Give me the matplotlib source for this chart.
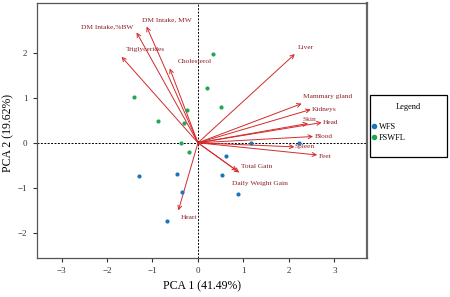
import matplotlib
matplotlib.use("Agg")
import matplotlib.pyplot as plt
from matplotlib.lines import Line2D
from matplotlib.patches import Rectangle

plt.rcParams['font.family'] = ['Liberation Serif', 'DejaVu Serif']

# PCA scores
wfs_x = [1.16, 2.23, -1.30, -0.46, -0.35, -0.67, 0.62, 0.52, 0.89]
wfs_y = [0.00, 0.00, -0.73, -0.70, -1.10, -1.74, -0.30, -0.71, -1.13]
fswfl_x = [-1.40, -0.88, -0.25, -0.30, -0.37, -0.19, 0.33, 0.20, 0.51]
fswfl_y = [1.01, 0.48, 0.72, 0.45, 0.00, -0.21, 1.97, 1.21, 0.79]

# loadings (arrow tips)
variables = ['DM Intake,%BW', 'DM Intake, MW', 'Triglycerides', 'Cholesterol',
             'Liver', 'Mammary gland', 'Kidneys', 'Skin', 'Head', 'Blood',
             'Spleen', 'Feet', 'Total Gain', 'Daily Weight Gain', 'Heart']
load_x = [-1.35, -1.13, -1.68, -0.62, 2.13, 2.28, 2.48, 2.42, 2.72, 2.53,
          2.12, 2.62, 0.91, 0.86, -0.43]
load_y = [2.45, 2.58, 1.91, 1.65, 1.97, 0.87, 0.74, 0.43, 0.45, 0.14,
          -0.09, -0.27, -0.66, -0.62, -1.50]

# label offsets in points relative to arrow tip
label_off = {
    'DM Intake,%BW': (-2, 4, 'right'),
    'DM Intake, MW': (-3, 5, 'left'),
    'Triglycerides': (3, 5, 'left'),
    'Cholesterol': (6, 5, 'left'),
    'Liver': (2, 5, 'left'),
    'Mammary gland': (1, 5, 'left'),
    'Kidneys': (1, 0, 'left'),
    'Skin': (-4, 3, 'left'),
    'Head': (1, 0, 'left'),
    'Blood': (1, 0, 'left'),
    'Spleen': (0, 0, 'left'),
    'Feet': (1, -1, 'left'),
    'Total Gain': (1, 4, 'left'),
    'Daily Weight Gain': (-4, -9, 'left'),
    'Heart': (2, -5, 'left'),
}

fig = plt.figure(figsize=(4.5, 2.97), dpi=100)
ax = fig.add_axes([36.5 / 450, 1 - 257.7 / 297, 330.2 / 450, 255 / 297])

ax.axhline(0, color='black', lw=0.7, ls=(0, (2, 1.5)), zorder=1)
ax.axvline(0, color='black', lw=0.7, ls=(0, (2, 1.5)), zorder=1)

arrow_col = '#d42a2a'
text_col = '#8e1f25'
for name, lx, ly in zip(variables, load_x, load_y):
    ax.annotate('', xy=(lx, ly), xytext=(0, 0),
                arrowprops=dict(arrowstyle='->', color=arrow_col, lw=0.7,
                                shrinkA=0, shrinkB=0, mutation_scale=7),
                zorder=3)
    dx, dy, ha = label_off[name]
    ax.annotate(name, xy=(lx, ly), xytext=(dx, dy), textcoords='offset points',
                ha=ha, va='center', fontsize=5.3, color=text_col, zorder=4)

ax.scatter(wfs_x, wfs_y, s=9, color='#1b75bb', zorder=5, linewidths=0)
ax.scatter(fswfl_x, fswfl_y, s=9, color='#1fa84f', zorder=5, linewidths=0)

ax.set_xlim(-3.55, 3.71)
ax.set_ylim(-2.55, 3.11)
ax.set_xticks([-3, -2, -1, 0, 1, 2, 3])
ax.set_yticks([-2, -1, 0, 1, 2])
ax.tick_params(labelsize=6.5, length=3, width=0.8, colors='#333333')
for s in ax.spines.values():
    s.set_color('#555555')
    s.set_linewidth(0.9)
ax.spines['right'].set_linewidth(1.6)
ax.spines['right'].set_color('#666666')

ax.set_xlabel('PCA 1 (41.49%)', fontsize=8.5, labelpad=4)
ax.set_ylabel('PCA 2 (19.62%)', fontsize=8.5)
ax.yaxis.set_label_coords(-0.068, 0.49)

# legend box drawn in figure pixels
fig.patches.append(Rectangle((370 / 450, 1 - 157 / 297), 77 / 450, 62 / 297,
                             transform=fig.transFigure, fill=False,
                             edgecolor='black', lw=0.9))
fig.text(408.5 / 450, 1 - 107 / 297, 'Legend', ha='center', va='center', fontsize=6)
handles = [Line2D([], [], marker='o', ls='', color='#1b75bb', markersize=3, label='WFS'),
           Line2D([], [], marker='o', ls='', color='#1fa84f', markersize=3, label='FSWFL')]
leg = fig.legend(handles=handles, loc='upper left',
                 bbox_to_anchor=(371 / 450, 1 - 123 / 297), bbox_transform=fig.transFigure,
                 fontsize=6, frameon=False, handletextpad=0.1, handlelength=0.8,
                 borderpad=0, labelspacing=0.3, borderaxespad=0)

fig.savefig('out.png', dpi=100)
